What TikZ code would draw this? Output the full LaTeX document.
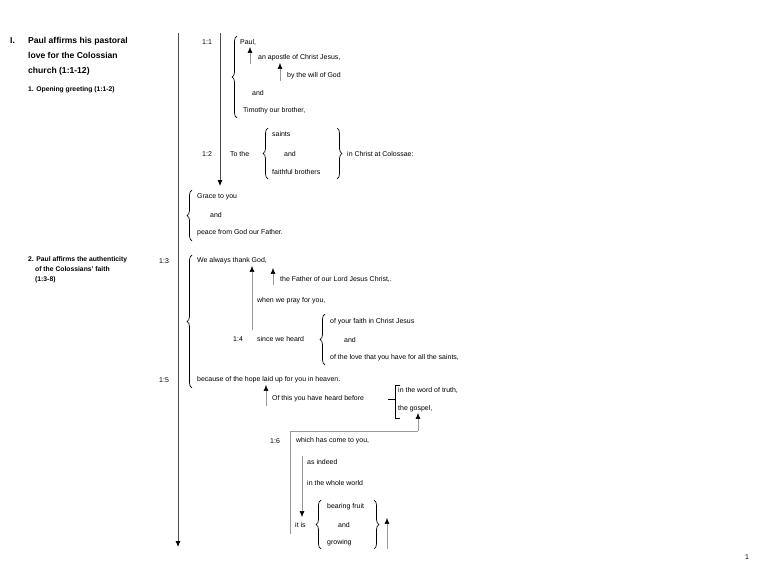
\documentclass[tikz,border=0pt]{standalone}
\usepackage{fontspec}
\setmainfont{Liberation Sans}
\usetikzlibrary{decorations.pathreplacing,arrows.meta}
\begin{document}
\begin{tikzpicture}[x=1bp,y=-1bp,
 t/.style={anchor=west,inner sep=0pt,font=\fontsize{7}{7.5}\selectfont},
 hd/.style={anchor=north west,inner sep=0pt,align=left,font=\bfseries\fontsize{8.6}{15}\selectfont},
 sh/.style={anchor=north west,inner sep=0pt,align=left,font=\bfseries\fontsize{6.8}{10}\selectfont},
 br/.style={draw=black,line width=0.7pt,decorate,decoration={brace,amplitude=5pt}},
 main/.style={draw=black!70,line width=0.8pt,-{Latex[length=6pt,width=5pt,color=black]}},
 ga/.style={draw=black!40,line width=0.6pt,-{Latex[length=6pt,width=5pt,color=black]}},
 gl/.style={draw=black!40,line width=0.6pt}]
\useasboundingbox (0,0) rectangle (768,576);
% left headings
\node[hd] (h1n) at (10,37) {I.};
\node[hd] (h1) at (28,37) {Paul affirms his pastoral\\love for the Colossian\\church (1:1-12)};
\node[sh] (h2) at (28,86) {1. Opening greeting (1:1-2)};
\node[sh] (h3) at (28,256) {2. Paul affirms the authenticity\\\hspace*{7bp}of the Colossians' faith\\\hspace*{7bp}(1:3-8)};
% main long arrow
\coordinate (mtop) at (178,33); \coordinate (mbot) at (178,547);
\draw[main] (mtop) -- (mbot);
\coordinate (itop) at (220,33); \coordinate (ibot) at (220,186);
\draw[main] (itop) -- (ibot);
% 1:1
\node[t] (v11) at (202,42) {1:1};
\node[t] (paul) at (240,42) {Paul,};
\node[t] (apos) at (258,58) {an apostle of Christ Jesus,};
\node[t] (will) at (287,76) {by the will of God};
\node[t] (and1) at (252,93) {and};
\node[t] (tim) at (243,111) {Timothy our brother,};
\draw[br] (237,118) -- (237,36);
\draw[ga] (250,64) -- (250,47);
\draw[ga] (280,81) -- (280,63);
% 1:2
\node[t] (v12) at (202,154) {1:2};
\node[t] (tothe) at (230,154) {To the};
\node[t] (saints) at (272,134) {saints};
\node[t] (and2) at (284,154) {and};
\node[t] (faith) at (272,172) {faithful brothers};
\node[t] (inch) at (347,154) {in Christ at Colossae:};
\draw[br] (268,179) -- (268,128);
\draw[br] (337,128) -- (337,179);
% grace
\draw[br] (192,241) -- (192,190);
\node[t] (grace) at (197,197) {Grace to you};
\node[t] (and3) at (210,215) {and};
\node[t] (peace) at (197,233) {peace from God our Father.};
% 1:3
\node[t] (v13) at (159,261) {1:3};
\draw[br] (192,388) -- (192,255);
\node[t] (thank) at (197,261) {We always thank God,};
\node[t] (father) at (280,279) {the Father of our Lord Jesus Christ,.};
\node[t] (pray) at (257,301) {when we pray for you,};
\node[t] (v14) at (233,339) {1:4};
\node[t] (heard) at (257,339) {since we heard};
\draw[br] (325,365) -- (325,314);
\node[t] (fth) at (330,322) {of your faith in Christ Jesus};
\node[t] (and4) at (344,340) {and};
\node[t] (love) at (330,358) {of the love that you have for all the saints,};
\draw[ga] (252,330) -- (252,266);
\draw[ga] (273,285) -- (273,268);
% 1:5
\node[t] (v15) at (159,380) {1:5};
\node[t] (hope) at (197,380) {because of the hope laid up for you in heaven.};
\node[t] (before) at (272,399) {Of this you have heard before};
\draw[ga] (266,406) -- (266,385);
\draw[black,line width=0.6pt] (388,399) -- (395,399);
\draw[black,line width=0.7pt] (400,385) -- (395,385) -- (395,418) -- (400,418);
\node[t] (word) at (398,390) {in the word of truth,};
\node[t] (gosp) at (398,409) {the gospel,};
% 1:6
\coordinate (c1) at (418,431); \coordinate (c2) at (290,431); \coordinate (c3) at (290,534);
\draw[gl] (c3) -- (c2) -- (c1);
\draw[ga] (c1) -- (418,413);
\node[t] (v16) at (270,441) {1:6};
\node[t] (come) at (296,441) {which has come to you,};
\node[t] (indeed) at (307,462) {as indeed};
\node[t] (world) at (307,483) {in the whole world};
\draw[ga] (302,456) -- (302,517);
\node[t] (itis) at (295,525) {it is};
\draw[br] (321,549) -- (321,500);
\node[t] (fruit) at (327,507) {bearing fruit};
\node[t] (and5) at (338,525) {and};
\node[t] (grow) at (327,543) {growing};
\draw[br] (374,500) -- (374,549);
\draw[ga] (387,549) -- (387,518);
\node[t] (pg) at (745,557) {1};
\end{tikzpicture}
\end{document}
